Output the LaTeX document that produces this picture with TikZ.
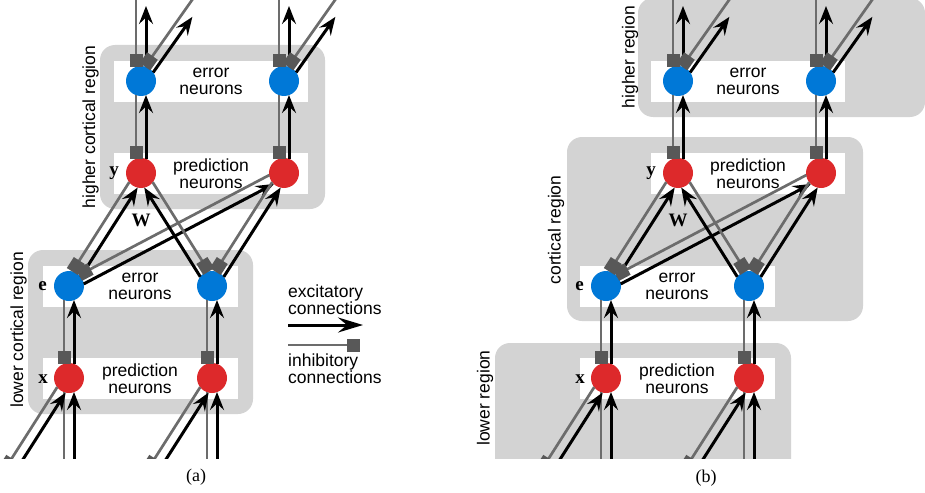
\documentclass[tikz,border=0pt]{standalone}
\usepackage{fontspec}
\setmainfont{Liberation Serif}
\newfontfamily\labelsans{Liberation Sans}
\usetikzlibrary{arrows.meta,calc}

\definecolor{regiongrey}{RGB}{211,211,211}
\definecolor{inhgrey}{RGB}{108,108,108}
\definecolor{sqgrey}{RGB}{88,88,88}
\definecolor{errblue}{RGB}{0,120,215}
\definecolor{predred}{RGB}{221,41,43}

% one excitatory (black) / inhibitory (grey) pair between a lower and an upper unit
% #1 lower, #2 upper, #3/#4 side angles, #5/#6 black shortening, #7/#8 grey shortening
\newcommand\pairlink[8]{%
  \draw[inh, shorten <=#7, shorten >=#8] ($(#2)!5pt!#4:(#1)$) -- ($(#1)!5pt!#3:(#2)$);
  \draw[exc, shorten <=#5, shorten >=#6] ($(#1)!5pt!#4:(#2)$) -- ($(#2)!5pt!#3:(#1)$);
}
\newcommand\lnk[4]{\pairlink{#1}{#2}{#3}{#4}{14pt}{14pt}{14pt}{14pt}}

% two-level network of prediction and error units, names prefixed by #1
\newcommand\network[1]{%
  \fill[white] (114,61) rectangle (308,102);
  \fill[white] (114,153) rectangle (308,194);
  \fill[white] (43,266) rectangle (238,307);
  \fill[white] (43,358) rectangle (238,399);
  \node[captext] (#1capE) at (211,81) {error\\neurons};
  \node[captext] (#1capY) at (211,173.5) {prediction\\neurons};
  \node[captext] (#1cape) at (140,286) {error\\neurons};
  \node[captext] (#1capx) at (140,378.5) {prediction\\neurons};
  \node[errn]  (#1E1) at (141,81) {};
  \node[errn]  (#1E2) at (284,81) {};
  \node[predn] (#1Y1) at (141,173) {};
  \node[predn] (#1Y2) at (284,173) {};
  \node[errn]  (#1e1) at (69,286) {};
  \node[errn]  (#1e2) at (212,286) {};
  \node[predn] (#1x1) at (69,378) {};
  \node[predn] (#1x2) at (212,378) {};
  \node[vlabel] (#1ly) at (114,173.5) {y};
  \node[vlabel] (#1le) at (42.5,286.5) {e};
  \node[vlabel] (#1lx) at (43,379.5) {x};
  \node[vlabel] (#1lW) at (141,220) {W};
  \coordinate (#1T1) at (141,-11);
  \coordinate (#1T2) at (284,-11);
  \coordinate (#1D1) at (201,-4);
  \coordinate (#1D2) at (344,-4);
  \coordinate (#1B1) at (69,472);
  \coordinate (#1B2) at (212,472);
  \coordinate (#1C1) at (9,472);
  \coordinate (#1C2) at (152,472);
  \begin{scope}
    \clip (-100,0) rectangle (420,458);
    \lnk{#1x1}{#1e1}{90}{-90}
    \lnk{#1x2}{#1e2}{90}{-90}
    \lnk{#1Y1}{#1E1}{90}{-90}
    \lnk{#1Y2}{#1E2}{90}{-90}
    \lnk{#1e1}{#1Y1}{90}{-90}
    \lnk{#1e1}{#1Y2}{90}{-90}
    \lnk{#1e2}{#1Y1}{-90}{90}
    \lnk{#1e2}{#1Y2}{90}{-90}
    \pairlink{#1E1}{#1T1}{90}{-90}{14pt}{17pt}{0pt}{14pt}
    \pairlink{#1E2}{#1T2}{90}{-90}{14pt}{17pt}{0pt}{14pt}
    \pairlink{#1E1}{#1D1}{90}{-90}{14pt}{22pt}{0pt}{14pt}
    \pairlink{#1E2}{#1D2}{90}{-90}{14pt}{22pt}{0pt}{14pt}
    \pairlink{#1B1}{#1x1}{90}{-90}{0pt}{14pt}{14pt}{0pt}
    \pairlink{#1B2}{#1x2}{90}{-90}{0pt}{14pt}{14pt}{0pt}
    \pairlink{#1C1}{#1x1}{90}{-90}{0pt}{14pt}{14pt}{0pt}
    \pairlink{#1C2}{#1x2}{90}{-90}{0pt}{14pt}{14pt}{0pt}
  \end{scope}
}

\begin{document}
\begin{tikzpicture}[x=1pt,y=-1pt,
  region/.style={fill=regiongrey, rounded corners=15pt},
  errn/.style={circle, fill=errblue, minimum size=30pt, inner sep=0pt},
  predn/.style={circle, fill=predred, minimum size=30pt, inner sep=0pt},
  exc/.style={draw=black, line width=3pt, -{Stealth[length=18pt,width=14pt,inset=6.5pt]}},
  inh/.style={draw=inhgrey, line width=2.7pt, -{Square[length=13pt,width=13pt,color=sqgrey]}},
  captext/.style={font=\labelsans\fontsize{17.5}{16.8}\selectfont, align=center, inner sep=0pt},
  captextl/.style={font=\labelsans\fontsize{17.5}{16.8}\selectfont, align=left, inner sep=0pt},
  vlabel/.style={font=\fontsize{19}{19}\selectfont\bfseries, inner sep=0pt},
  sublabel/.style={font=\fontsize{18}{18}\selectfont, inner sep=0pt}]
\useasboundingbox (0,0) rectangle (925,492);

% ---------- (a) ----------
\fill[region] (100,45) rectangle (325,209);
\fill[region] (28,250) rectangle (253,414);
\node[captext, rotate=90] (aRhi) at (90.5,127) {higher cortical region};
\node[captext, rotate=90] (aRlo) at (18.5,330) {lower cortical region};
\network{a}

% legend
\node[captextl, anchor=west] (legexc) at (288,300) {excitatory\\connections};
\coordinate (lgA1) at (288,325);
\coordinate (lgA2) at (363,325);
\draw[draw=black, line width=3pt, -{Stealth[length=25pt,width=15pt,inset=9pt]}] (lgA1) -- (lgA2);
\coordinate (lgB1) at (288,345);
\coordinate (lgB2) at (360,345);
\draw[inh, -{Square[length=13pt,width=13pt,color=sqgrey]}] (lgB1) -- (lgB2);
\node[captextl, anchor=west] (leginh) at (288,369) {inhibitory\\connections};

\node[sublabel] (labA) at (196,477) {(a)};

% ---------- (b) ----------
\begin{scope}
  \clip (470,0) rectangle (925,458);
  \fill[region] (638,-2) rectangle (925,117);
  \fill[region] (567,137) rectangle (863,321);
  \fill[region] (495,343) rectangle (791,490);
\end{scope}
\node[captext, rotate=90] (bRhi) at (630,57) {higher region};
\node[captext, rotate=90] (bRmid) at (556,230) {cortical region};
\node[captext, rotate=90] (bRlo) at (485,398) {lower region};
\begin{scope}[xshift=537pt]
  \network{b}
\end{scope}

\node[sublabel] (labB) at (706,478) {(b)};
\end{tikzpicture}
\end{document}
